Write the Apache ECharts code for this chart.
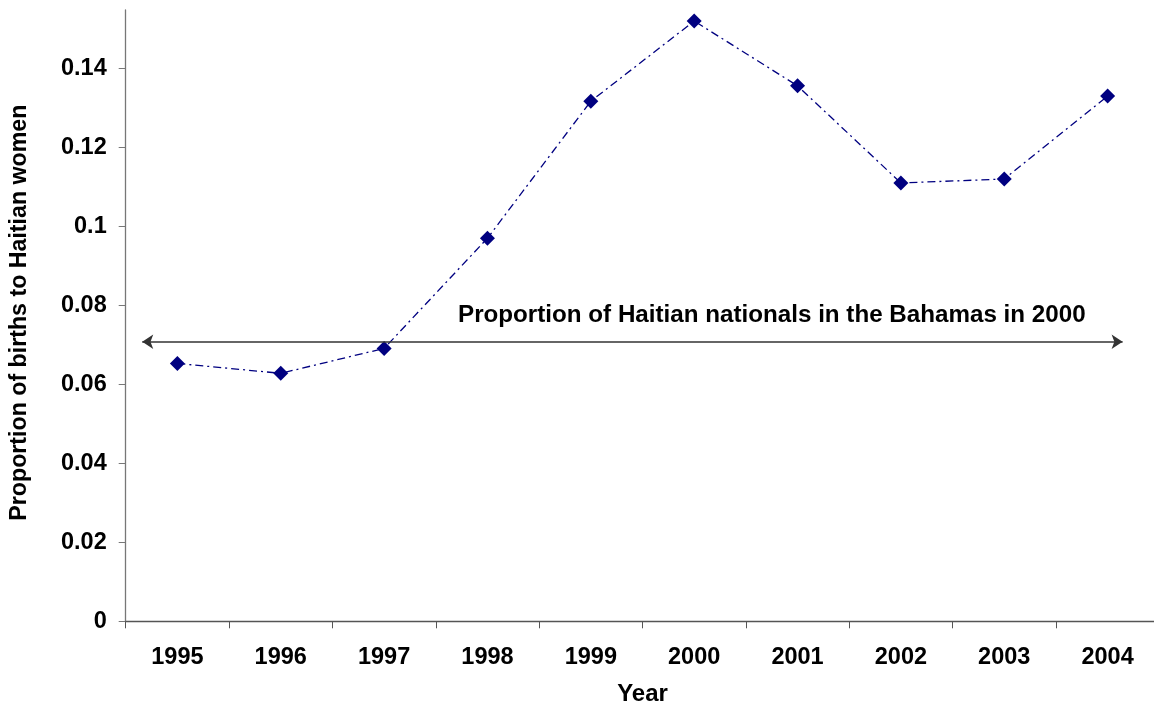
<!DOCTYPE html>
<html>
<head>
<meta charset="utf-8">
<script src="https://cdn.jsdelivr.net/npm/echarts@6/dist/echarts.min.js"></script>
<style>
html,body{margin:0;padding:0;background:#fff;overflow:hidden;}
#chart{width:1154px;height:706px;}
</style>
</head>
<body>
<div id="chart"></div>
<script>
const years = ['1995','1996','1997','1998','1999','2000','2001','2002','2003','2004'];
const proportions = [0.0653, 0.0628, 0.0691, 0.0970, 0.1317, 0.1520, 0.1356, 0.1110, 0.1120, 0.1330];
const yTickValues = [0, 0.02, 0.04, 0.06, 0.08, 0.10, 0.12, 0.14];
const yTickLabels = ['0', '0.02', '0.04', '0.06', '0.08', '0.1', '0.12', '0.14'];
const referenceValue = 0.0708;
const referenceSpan = [0.16, 9.645];
const referenceText = 'Proportion of Haitian nationals in the Bahamas in 2000';

const FONT = '"Liberation Sans", Arial, sans-serif';
const chart = echarts.init(document.getElementById('chart'));
chart.setOption({
  animation: false,
  backgroundColor: '#ffffff',
  grid: { left: 125.7, right: -5.3, top: 10, bottom: 84.7, containLabel: false, outerBoundsMode: 'none' },
  xAxis: [{
    type: 'category',
    data: years,
    boundaryGap: true,
    name: 'Year',
    nameLocation: 'middle',
    nameGap: 61,
    nameTextStyle: { fontFamily: FONT, fontWeight: 'bold', fontSize: 24, color: '#000' },
    axisLine: { lineStyle: { color: '#555', width: 1.3 } },
    axisTick: { show: true, length: 7, inside: false, alignWithLabel: false, lineStyle: { color: '#555' } },
    axisLabel: { fontFamily: FONT, fontWeight: 'bold', fontSize: 23.5, color: '#000', margin: 24 },
    splitLine: { show: false }
  }, {
    type: 'value',
    min: 0, max: 10,
    show: false
  }],
  yAxis: {
    type: 'value',
    min: 0,
    max: 0.1548,
    interval: 0.02,
    name: 'Proportion of births to Haitian women',
    nameLocation: 'middle',
    nameGap: 95,
    nameTextStyle: { fontFamily: FONT, fontWeight: 'bold', fontSize: 23.2, color: '#000', padding: [0, 0, 0, 6] },
    axisLine: { show: true, lineStyle: { color: '#777', width: 1.3 } },
    axisTick: { show: true, length: 7, customValues: yTickValues, lineStyle: { color: '#777' } },
    axisLabel: {
      fontFamily: FONT, fontWeight: 'bold', fontSize: 23.5, color: '#000', margin: 19,
      customValues: yTickValues,
      formatter: function (v) {
        const i = yTickValues.findIndex(t => Math.abs(t - v) < 1e-9);
        return i >= 0 ? yTickLabels[i] : '';
      }
    },
    splitLine: { show: false }
  },
  series: [{
    type: 'line',
    data: proportions,
    xAxisIndex: 0,
    symbol: 'diamond',
    symbolSize: 15,
    itemStyle: { color: '#000080' },
    lineStyle: { color: '#000080', width: 1.3, type: [8, 4, 2, 4] }
  }, {
    type: 'line',
    xAxisIndex: 1,
    data: [],
    silent: true,
    markLine: {
      silent: true,
      symbol: ['arrow', 'arrow'],
      symbolSize: [11, 11],
      label: { show: false },
      lineStyle: { color: '#333', width: 1.5, type: 'solid' },
      data: [[
        { coord: [referenceSpan[0], referenceValue] },
        { coord: [referenceSpan[1], referenceValue] }
      ]]
    }
  }],
  graphic: [{
    type: 'text',
    left: 458,
    top: 303,
    style: { text: referenceText, fontFamily: FONT, fontWeight: 'bold', fontSize: 24.2, fill: '#000' }
  }]
});
</script>
</body>
</html>
